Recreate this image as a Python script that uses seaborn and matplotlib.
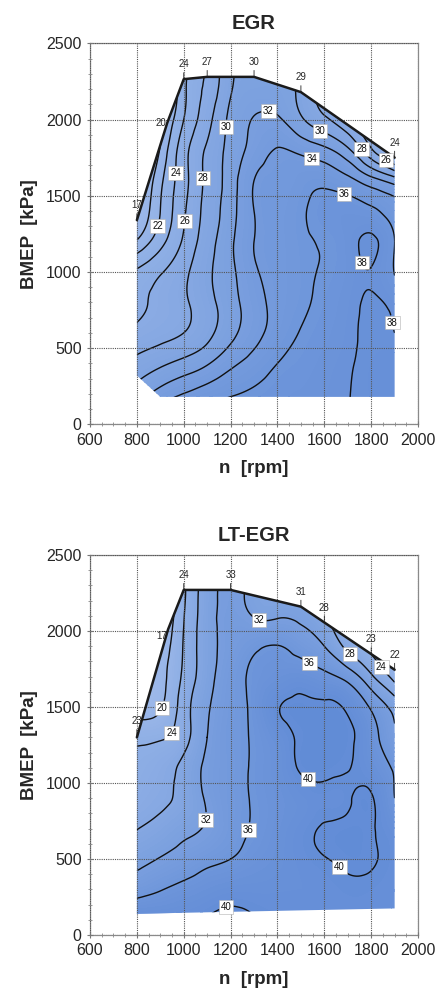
import numpy as np
import matplotlib
matplotlib.use('Agg')
import matplotlib.pyplot as plt
import matplotlib.tri as mtri
from matplotlib.patches import Polygon
from matplotlib.ticker import MultipleLocator
import seaborn as sns

# engine speed grid [rpm]
rpm = [800, 900, 1000, 1100, 1200, 1300, 1400, 1500, 1600, 1700, 1800, 1900]

# ---- EGR: efficiency, rows = BMEP [kPa] ----
bmep_egr = [150, 400, 600, 800, 1000, 1200, 1400, 1600, 1800, 2000, 2200, 2350]
eff_egr = [
    [31.5, 33.6, 34.9, 35.9, 36.3, 36.6, 36.9, 37.2, 37.5, 37.95, 38.5, 38.8],
    [28.6, 29.6, 30.6, 31.8, 33.5, 34.8, 36.0, 36.6, 37.2, 37.8, 38.5, 38.8],
    [26.6, 27.3, 28.0, 29.4, 31.4, 33.3, 34.9, 36.1, 36.8, 37.6, 38.3, 38.0],
    [25.3, 26.6, 27.7, 29.3, 31.2, 33.2, 34.6, 35.6, 36.5, 37.4, 38.2, 37.4],
    [24.3, 25.8, 27.5, 29.6, 31.5, 33.7, 34.7, 35.5, 36.2, 37.1, 37.9, 35.9],
    [20.2, 23.3, 26.3, 29.1, 31.6, 34.0, 34.8, 35.6, 36.2, 37.2, 38.3, 36.0],
    [17.5, 22.0, 25.7, 28.7, 31.2, 34.0, 34.8, 35.7, 36.7, 36.9, 36.4, 35.0],
    [16.0, 21.5, 25.3, 28.5, 31.0, 34.0, 34.6, 35.2, 35.5, 34.6, 32.8, 31.0],
    [14.0, 20.2, 25.2, 28.3, 30.7, 32.8, 34.1, 33.5, 32.5, 30.4, 26.3, 22.0],
    [12.0, 18.5, 24.0, 27.3, 30.5, 32.1, 32.3, 30.3, 28.4, 26.5, 24.0, 21.0],
    [10.0, 16.0, 23.5, 26.5, 29.8, 31.0, 31.0, 29.5, 27.0, 25.0, 22.0, 20.0],
    [9.0, 15.0, 23.0, 26.0, 29.5, 30.5, 30.5, 29.0, 26.5, 24.5, 21.5, 19.5],
]
# full load line with the measured values written on it
fl_rpm_egr = [800, 930, 1000, 1100, 1300, 1500, 1900]
fl_bmep_egr = [1340, 1980, 2265, 2280, 2280, 2180, 1750]
fl_val_egr = [17, 20, 24, 27, 30, 29, 24]
# lower / right limit of the operating area
lo_rpm_egr = [1900, 900, 800]
lo_bmep_egr = [180, 180, 320]
levels_egr = [20, 22, 24, 26, 28, 30, 32, 34, 36, 38]

# ---- LT-EGR ----
bmep_lt = [100, 300, 500, 700, 900, 1100, 1300, 1500, 1700, 1900, 2100, 2350]
eff_lt = [
    [40.3, 39.8, 39.6, 40.2, 40.8, 40.2, 39.6, 39.3, 39.2, 39.2, 39.2, 39.0],
    [34.5, 35.8, 37.0, 38.0, 38.7, 38.8, 38.9, 39.0, 39.2, 39.6, 39.5, 39.0],
    [30.8, 32.2, 33.6, 35.0, 36.0, 37.2, 38.2, 39.2, 39.9, 40.4, 40.2, 39.2],
    [27.9, 29.3, 31.0, 32.4, 34.7, 36.3, 37.8, 39.2, 40.2, 40.5, 40.2, 38.5],
    [25.9, 27.2, 29.2, 32.5, 34.7, 36.3, 37.6, 38.8, 39.4, 39.7, 40.2, 36.0],
    [25.0, 26.4, 29.0, 32.8, 34.7, 36.4, 38.0, 40.3, 40.6, 40.1, 38.5, 35.5],
    [23.0, 23.5, 26.5, 32.0, 34.8, 36.4, 38.5, 40.4, 40.8, 40.5, 37.5, 32.5],
    [18.0, 19.6, 26.0, 31.5, 34.6, 36.8, 39.8, 40.6, 40.5, 39.5, 35.5, 30.5],
    [15.0, 18.5, 24.8, 30.5, 34.3, 36.6, 37.8, 38.3, 37.0, 34.5, 28.7, 22.5],
    [12.0, 17.0, 24.3, 30.3, 33.5, 35.3, 36.1, 34.5, 32.0, 26.8, 22.8, 19.0],
    [10.0, 15.0, 23.8, 30.2, 33.2, 31.8, 31.6, 31.2, 28.5, 24.0, 20.0, 17.0],
    [8.0, 13.0, 23.5, 30.0, 33.0, 31.0, 30.5, 29.5, 26.0, 21.0, 17.0, 14.0],
]
fl_rpm_lt = [800, 933, 1000, 1200, 1500, 1600, 1800, 1900]
fl_bmep_lt = [1300, 2010, 2270, 2270, 2160, 2056, 1848, 1745]
fl_val_lt = [23, 17, 24, 33, 31, 28, 23, 22]
lo_rpm_lt = [1900, 800]
lo_bmep_lt = [175, 140]
levels_lt = [20, 24, 28, 32, 36, 40]

# label placement (points near which clabel puts the number)
lab_egr = [(877, 1306), (963, 1647), (980, 1339), (1078, 1614), (1185, 1950),
           (1360, 2015), (1539, 1700), (1675, 1456), (1582, 1930), (1752, 1798),
           (1865, 1745), (1762, 1063), (1840, 650)]
lab_lt = [(913, 1490), (956, 1320), (1317, 2046), (1539, 1797), (1696, 1817),
          (1838, 1752), (1530, 1026), (1696, 523), (1078, 765), (1274, 693),
          (1176, 209)]
off_egr = [(0, 7), (-1, 0), (0, 7), (0, 7), (0, 7), (0, 7), (0, 7)]
off_lt = [(0, 8), (-1, -5), (0, 7), (0, 7), (0, 7), (0, 7), (0, 7), (0, 7)]

sns.set_theme(style='ticks')
plt.rcParams['font.family'] = ['Liberation Sans', 'DejaVu Sans']

cmap = sns.blend_palette(['#a9c1ed', '#88aae3', '#5e89d5'], as_cmap=True)


def draw(ax, title, bmep, eff, levels, fl_rpm, fl_bmep, fl_val, lo_rpm, lo_bmep,
         lab_pos, offsets):
    X, Y = np.meshgrid(rpm, bmep)
    z = np.array(eff).ravel()
    tri = mtri.Triangulation(X.ravel() / 100.0, Y.ravel() / 200.0)
    tri_f, z_f = mtri.UniformTriRefiner(tri).refine_field(z, subdiv=4)
    tri_f = mtri.Triangulation(tri_f.x * 100.0, tri_f.y * 200.0, tri_f.triangles)

    verts = list(zip(fl_rpm, fl_bmep)) + list(zip(lo_rpm, lo_bmep))
    env = Polygon(verts, closed=True, fc='none', ec='none')
    ax.add_patch(env)

    cf = ax.tricontourf(tri_f, z_f, levels=np.arange(6, 44, 0.5), cmap=cmap,
                        vmin=12, vmax=42, extend='both')
    cf.set_clip_path(env)
    cs = ax.tricontour(tri_f, z_f, levels=levels, colors='#111111', linewidths=1.0)
    cs.set_clip_path(env)
    txts = ax.clabel(cs, fmt='%d', fontsize=7, inline=True, inline_spacing=3,
                     manual=lab_pos)
    for t in txts:
        t.set_rotation(0)
        t.set_bbox(dict(boxstyle='square,pad=0.2', fc='white', ec='#b0b0b0', lw=0.4))

    ax.plot(fl_rpm, fl_bmep, color='k', lw=1.8, solid_capstyle='round', zorder=3)
    for r, b, v, off in zip(fl_rpm, fl_bmep, fl_val, offsets):
        if off[0] < 0:
            ax.annotate(str(v), xy=(r, b), xytext=off, textcoords='offset points',
                        ha='right', va='center', fontsize=7, zorder=4)
        else:
            ax.annotate(str(v), xy=(r, b), xytext=off, textcoords='offset points',
                        ha='center', va='bottom', fontsize=7, zorder=4,
                        arrowprops=dict(arrowstyle='-', color='#222222', lw=0.6,
                                        shrinkA=0, shrinkB=0))

    ax.set_xlim(600, 2000)
    ax.set_ylim(0, 2500)
    ax.set_xticks(range(600, 2001, 200))
    ax.set_yticks(range(0, 2501, 500))
    ax.xaxis.set_minor_locator(MultipleLocator(50))
    ax.yaxis.set_minor_locator(MultipleLocator(100))
    ax.tick_params(which='major', labelsize=11.5, length=4, width=0.8,
                   color='#777777', direction='inout')
    ax.tick_params(axis='x', which='major', pad=4)
    ax.tick_params(axis='y', which='major', pad=4)
    ax.tick_params(which='minor', length=2.5, width=0.6, color='#888888',
                   direction='inout')
    ax.grid(True, which='major', color='#555555', linestyle=(0, (1, 1)), lw=0.8)
    ax.set_axisbelow(False)
    for s in ax.spines.values():
        s.set_color('#8a8a8a')
        s.set_linewidth(0.9)
    ax.set_title(title, fontsize=14.5, fontweight='bold', pad=10)
    ax.set_xlabel('n  [rpm]', fontsize=13.5, fontweight='bold', labelpad=9)
    ax.set_ylabel('BMEP  [kPa]', fontsize=13.5, fontweight='bold', labelpad=6)


fig = plt.figure(figsize=(4.38, 10.01), dpi=100)
ax1 = fig.add_axes([0.2055, 0.5761, 0.749, 0.3806])
ax2 = fig.add_axes([0.2055, 0.0659, 0.749, 0.3797])

draw(ax1, 'EGR', bmep_egr, eff_egr, levels_egr, fl_rpm_egr, fl_bmep_egr, fl_val_egr,
     lo_rpm_egr, lo_bmep_egr, lab_egr, off_egr)
draw(ax2, 'LT-EGR', bmep_lt, eff_lt, levels_lt, fl_rpm_lt, fl_bmep_lt, fl_val_lt,
     lo_rpm_lt, lo_bmep_lt, lab_lt, off_lt)

fig.savefig('out.png', dpi=100)
